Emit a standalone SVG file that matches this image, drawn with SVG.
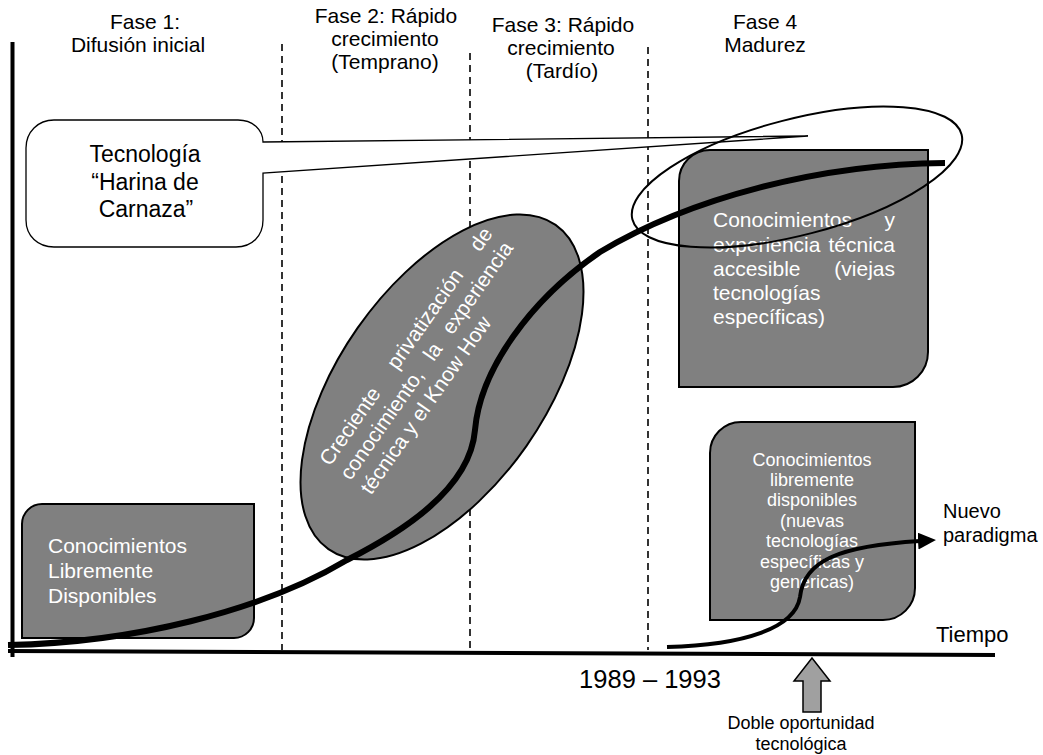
<svg xmlns="http://www.w3.org/2000/svg" width="1043" height="755" viewBox="0 0 1043 755">
  <style>
    text { font-family: "Liberation Sans", Arial, sans-serif; fill: #000; }
    .hdr { font-size: 21px; text-anchor: middle; }
    .wt { fill: #fff; }
    .box { fill: #808080; stroke: #000; stroke-width: 2; }
    .dash { stroke: #000; stroke-width: 1.6; stroke-dasharray: 7 5; fill: none; }
    .axis { stroke: #000; stroke-width: 4; fill: none; }
  </style>
  <defs>
    <marker id="ah" markerUnits="userSpaceOnUse" markerWidth="18" markerHeight="17" viewBox="0 0 18 17" refX="2" refY="8.5" orient="auto">
      <path d="M0,0 L18,8.5 L0,17 Z" fill="#000"/>
    </marker>
  </defs>
  <rect width="1043" height="755" fill="#fff"/>

  <!-- phase separators -->
  <g id="separators">
    <line class="dash" x1="282" y1="44" x2="282" y2="650"/>
    <line class="dash" x1="470" y1="53" x2="470" y2="650"/>
    <line class="dash" x1="648" y1="47" x2="648" y2="650"/>
  </g>

  <!-- axes -->
  <g id="axes">
    <line class="axis" x1="12.5" y1="42" x2="12.5" y2="657"/>
    <line class="axis" x1="8" y1="651" x2="995" y2="655"/>
  </g>

  <!-- phase headings -->
  <g id="phase1">
    <text class="hdr" x="145" y="29">Fase 1:</text>
    <text class="hdr" x="138" y="52">Difusión inicial</text>
  </g>
  <g id="phase2">
    <text class="hdr" x="386" y="23">Fase 2: Rápido</text>
    <text class="hdr" x="385" y="46">crecimiento</text>
    <text class="hdr" x="385" y="69">(Temprano)</text>
  </g>
  <g id="phase3">
    <text class="hdr" x="563" y="32">Fase 3: Rápido</text>
    <text class="hdr" x="561" y="55">crecimiento</text>
    <text class="hdr" x="562" y="78">(Tardío)</text>
  </g>
  <g id="phase4">
    <text class="hdr" x="765" y="29">Fase 4</text>
    <text class="hdr" x="765" y="52">Madurez</text>
  </g>

  <!-- callout naming the technology -->
  <g id="callout">
    <path d="M54,120 H238 C253,120 263,130 263,142 L808,136 L263,173 V220 C263,236 252,247 236,247 H54 C38,247 26,236 26,220 V148 C26,132 38,120 54,120 Z" fill="#fff" stroke="#000" stroke-width="1.3"/>
    <text x="145" y="162" font-size="23" text-anchor="middle">Tecnología</text>
    <text x="145" y="190" font-size="23" text-anchor="middle">“Harina de</text>
    <text x="146" y="217" font-size="23" text-anchor="middle">Carnaza”</text>
  </g>

  <!-- freely available knowledge (phase 1) -->
  <g id="box-libre">
    <path class="box" d="M42,504 H254 V618 A20,20 0 0 1 234,638 H22 V524 A20,20 0 0 1 42,504 Z"/>
    <text class="wt" x="48" y="553" font-size="21">Conocimientos</text>
    <text class="wt" x="48" y="578" font-size="21">Libremente</text>
    <text class="wt" x="48" y="603" font-size="21">Disponibles</text>
  </g>

  <!-- privatisation ellipse -->
  <g id="ellipse-privatizacion">
    <ellipse class="box" cx="442" cy="387" rx="198" ry="103" transform="rotate(-55 442 387)"/>
    <g transform="translate(330,467) rotate(-55)" font-size="21">
      <text class="wt" y="0"><tspan x="0">Creciente</tspan><tspan x="117.4">privatización</tspan><tspan x="261.6">de</tspan></text>
      <text class="wt" y="25"><tspan x="0">conocimiento,</tspan><tspan x="145.4">la</tspan><tspan x="177.6">experiencia</tspan></text>
      <text class="wt" x="0" y="50">técnica y el Know How</text>
    </g>
  </g>

  <!-- accessible know-how (phase 4) -->
  <g id="box-accesible">
    <path class="box" d="M710,150 H928 V352 A35,35 0 0 1 893,387 H679 V181 A31,31 0 0 1 710,150 Z"/>
    <g font-size="21">
      <text class="wt" x="713" y="227">Conocimientos</text>
      <text class="wt" x="895" y="227" text-anchor="end">y</text>
      <text class="wt" x="713" y="252">experiencia</text>
      <text class="wt" x="895" y="252" text-anchor="end">técnica</text>
      <text class="wt" x="713" y="276">accesible</text>
      <text class="wt" x="895" y="276" text-anchor="end">(viejas</text>
      <text class="wt" x="713" y="300">tecnologías</text>
      <text class="wt" x="713" y="324">específicas)</text>
    </g>
  </g>

  <!-- new freely available knowledge -->
  <g id="box-nuevas">
    <path class="box" d="M741,422 H915 V588 A32,32 0 0 1 883,620 H710 V453 A31,31 0 0 1 741,422 Z"/>
    <g font-size="18" text-anchor="middle">
      <text class="wt" x="812" y="466">Conocimientos</text>
      <text class="wt" x="812" y="486">libremente</text>
      <text class="wt" x="812" y="506">disponibles</text>
      <text class="wt" x="812" y="527">(nuevas</text>
      <text class="wt" x="812" y="547">tecnologías</text>
      <text class="wt" x="812" y="568">específicas y</text>
      <text class="wt" x="812" y="588">genericas)</text>
    </g>
  </g>

  <!-- curves -->
  <g id="connectors" fill="none" stroke="#000">
    <path d="M8,645 C130,643 260,612 347,560 C400,533 470,490 475,430 C480,370 530,300 600,252 C690,198 820,164 945,163" stroke-width="6"/>
    <path d="M667,647 C745,645 795,628 800,597 C804,560 840,546 920,541" stroke-width="4" marker-end="url(#ah)"/>
  </g>

  <!-- maturity highlight ring -->
  <g id="ring-madurez">
    <ellipse cx="797" cy="177" rx="170" ry="58" transform="rotate(-14.5 797 177)" fill="none" stroke="#000" stroke-width="2"/>
  </g>

  <!-- axis and side labels -->
  <g id="label-nuevo">
    <text x="943" y="518" font-size="20">Nuevo</text>
    <text x="943" y="542" font-size="20">paradigma</text>
  </g>
  <g id="label-tiempo">
    <text x="936" y="642" font-size="22">Tiempo</text>
  </g>
  <g id="label-anios">
    <text x="650" y="688" font-size="25.5" text-anchor="middle">1989 – 1993</text>
  </g>

  <!-- double opportunity pointer -->
  <g id="oportunidad">
    <polygon points="812,658 830,681 821,681 821,712 803,712 803,681 794,681" fill="#a0a0a0" stroke="#000" stroke-width="1.5"/>
    <text x="801" y="729" font-size="18" text-anchor="middle">Doble oportunidad</text>
    <text x="801" y="750" font-size="18" text-anchor="middle">tecnológica</text>
  </g>
</svg>
